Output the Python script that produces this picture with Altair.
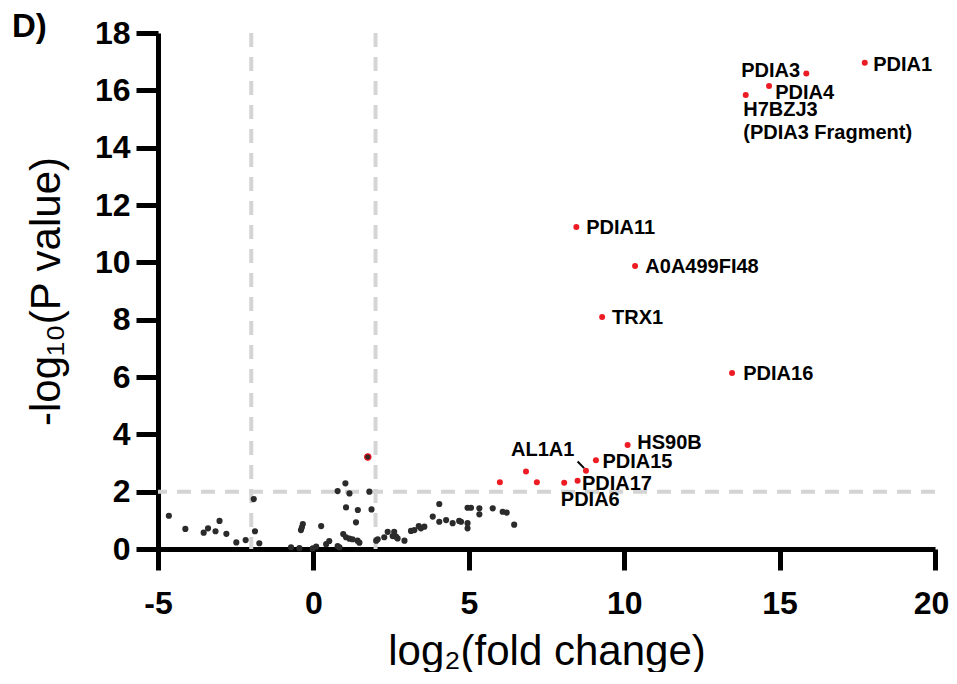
import altair as alt
import pandas as pd

# ---- data ----
black_x = [-4.65, -4.12, -3.53, -3.39, -3.15, -3.02, -2.80, -2.48, -2.18, -1.92, -1.88, -1.74,
           -0.72, -0.45, -0.40, -0.34, -0.37, -0.02, 0.09, 0.25, 0.41, 0.51, 0.78, 0.84,
           0.78, 1.03, 1.16, 1.05, 1.43, 1.37, 0.96, 1.05, 1.16, 1.26, 1.42, 1.48,
           1.80, 1.87, 2.02, 2.07, 2.28, 2.39, 2.60, 2.55, 2.66, 2.71, 2.93,
           3.14, 3.25, 3.39, 3.46, 3.57, 3.84, 4.05, 4.05, 4.27, 4.48, 4.69, 4.75,
           4.96, 4.96, 4.96, 5.07, 5.34, 5.34, 5.77, 6.09, 6.22, 6.46]
black_y = [1.16, 0.70, 0.57, 0.72, 0.62, 0.98, 0.53, 0.23, 0.31, 1.74, 0.62, 0.20,
           0.06, 0.03, 0.66, 0.87, 0.76, 0.02, 0.08, 0.80, 0.17, 0.28, 0.10, 0.06,
           2.02, 2.29, 1.94, 1.45, 1.36, 0.93, 0.52, 0.41, 0.36, 0.34, 0.29, 0.22,
           2.00, 1.38, 0.29, 0.34, 0.41, 0.60, 0.60, 0.45, 0.43, 0.37, 0.29,
           0.63, 0.66, 0.80, 0.72, 0.78, 1.13, 1.57, 0.95, 1.01, 0.90, 0.98, 0.95,
           0.90, 0.72, 1.44, 1.44, 1.42, 1.21, 1.42, 1.30, 1.27, 0.85]

outlined_x = [1.75]
outlined_y = [3.21]

red_x = [17.74, 15.86, 14.66, 13.91, 8.46, 10.35, 9.29, 13.47, 10.11, 9.09, 8.77, 8.50, 8.07, 6.00, 6.84, 7.19]
red_y = [16.96, 16.59, 16.15, 15.84, 11.23, 9.87, 8.09, 6.14, 3.63, 3.10, 2.73, 2.38, 2.31, 2.33, 2.70, 2.33]

label_text = ["PDIA1", "PDIA3", "PDIA4", "H7BZJ3", "(PDIA3 Fragment)", "PDIA11", "A0A499FI48",
              "TRX1", "PDIA16", "HS90B", "PDIA15", "AL1A1", "PDIA17", "PDIA6"]
label_x = [18.01, 15.66, 14.86, 13.83, 13.83, 8.78, 10.68, 9.61, 13.83, 10.42, 9.30, 6.36, 8.64, 7.96]
label_y = [16.90, 16.67, 15.92, 15.31, 14.51, 11.20, 9.84, 8.06, 6.10, 3.70, 3.02, 3.45, 2.27, 1.71]
label_side = ["left", "right", "left", "left", "left", "left", "left", "left", "left", "left",
              "left", "left", "left", "left"]

leader_x = [8.50]
leader_y = [3.05]
leader_x2 = [8.71]
leader_y2 = [2.82]

fc_cut = [-2, 2]
p_cut = [2]

x_ticks = [-5, 0, 5, 10, 15, 20]
y_ticks = [0, 2, 4, 6, 8, 10, 12, 14, 16, 18]

FONT = "Liberation Sans"

xscale = alt.Scale(domain=[-5, 20], nice=False, zero=False)
yscale = alt.Scale(domain=[0, 18], nice=False, zero=False)

xaxis = alt.Axis(values=x_ticks, labelExpr="'' + datum.value", title="log\u2082(fold change)",
                 titleFont=FONT, titleFontSize=42, titleFontWeight="normal", titleColor="black",
                 titleBaseline="alphabetic", titleY=115,
                 grid=False, domainColor="black", domainWidth=5, tickColor="black", tickWidth=5,
                 tickSize=21, labelFont=FONT, labelFontWeight="bold", labelFontSize=32,
                 labelColor="black", labelPadding=18, labelFlush=False, labelOverlap=False,
                 labelOffset={"condition": {"test": "datum.value == 20", "value": -4}, "value": 0})
yaxis = alt.Axis(values=y_ticks, labelExpr="'' + datum.value", title="-log\u2081\u2080(P value)",
                 titleFont=FONT, titleFontSize=42, titleFontWeight="normal", titleColor="black",
                 titleBaseline="alphabetic", titleAngle=270, titleX=-99,
                 grid=False, domainColor="black", domainWidth=5, tickColor="black", tickWidth=5,
                 tickSize=22, labelFont=FONT, labelFontWeight="bold", labelFontSize=32,
                 labelColor="black", labelPadding=6, labelFlush=False, labelOverlap=False)

X = lambda f="x": alt.X(f"{f}:Q", scale=xscale, axis=xaxis)
Y = lambda f="y": alt.Y(f"{f}:Q", scale=yscale, axis=yaxis)

df_black = pd.DataFrame({"x": black_x, "y": black_y})
df_out = pd.DataFrame({"x": outlined_x, "y": outlined_y})
df_red = pd.DataFrame({"x": red_x, "y": red_y})
df_lab = pd.DataFrame({"x": label_x, "y": label_y, "t": label_text, "side": label_side})
df_lead = pd.DataFrame({"x": leader_x, "y": leader_y, "x2": leader_x2, "y2": leader_y2})
df_v = pd.DataFrame({"x": fc_cut})
df_h = pd.DataFrame({"y": p_cut})
df_panel = pd.DataFrame({"t": ["D)"]})

dash = dict(color="#d4d4d4", strokeWidth=4, strokeDash=[14, 10])
vlines = alt.Chart(df_v).mark_rule(**dash).encode(x=X())
hline = alt.Chart(df_h).mark_rule(**dash).encode(y=Y())

black = alt.Chart(df_black).mark_circle(size=38, color="#2b2b2b", opacity=1).encode(x=X(), y=Y())
outlined = alt.Chart(df_out).mark_point(filled=True, size=40, fill="#3a2424", stroke="#e8161b",
                                        strokeWidth=1.2, opacity=1).encode(x=X(), y=Y())
red = alt.Chart(df_red).mark_circle(size=36, color="#ed1c24", opacity=1).encode(x=X(), y=Y())

leader = alt.Chart(df_lead).mark_rule(color="black", strokeWidth=2).encode(
    x=X(), y=Y(), x2="x2:Q", y2="y2:Q")

lab_left = alt.Chart(df_lab).transform_filter(alt.datum.side == "left").mark_text(
    align="left", baseline="middle", font=FONT, fontSize=20, fontWeight="bold", color="black"
).encode(x=X(), y=Y(), text="t:N")
lab_right = alt.Chart(df_lab).transform_filter(alt.datum.side == "right").mark_text(
    align="right", baseline="middle", font=FONT, fontSize=20, fontWeight="bold", color="black"
).encode(x=X(), y=Y(), text="t:N")

panel = alt.Chart(df_panel).mark_text(
    align="left", baseline="middle", font=FONT, fontSize=33, fontWeight="bold", color="black"
).encode(x=alt.value(-146), y=alt.value(-6), text="t:N")

chart = alt.layer(vlines, hline, black, outlined, red, leader, lab_left, lab_right, panel).properties(
    width=777, height=516,
    autosize=alt.AutoSizeParams(type="none"),
    padding={"left": 150, "top": 25, "right": 14, "bottom": 123},
).configure_view(stroke=None)

chart.save("out.html", embed_options={"renderer": "svg", "actions": False})
